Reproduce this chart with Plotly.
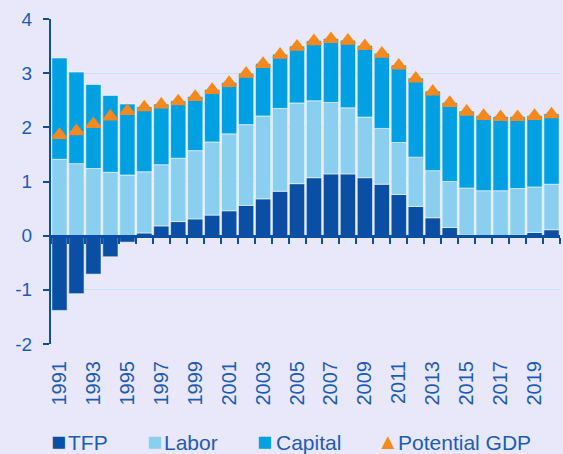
import plotly.graph_objects as go

years = list(range(1991, 2021))
tfp = [-1.38, -1.07, -0.71, -0.39, -0.12, 0.05, 0.18, 0.26, 0.31, 0.38,
       0.46, 0.56, 0.68, 0.82, 0.96, 1.07, 1.14, 1.14, 1.07, 0.95,
       0.76, 0.54, 0.33, 0.15, 0.01, 0.00, 0.00, 0.01, 0.06, 0.11]
labor = [1.41, 1.33, 1.24, 1.17, 1.12, 1.13, 1.13, 1.17, 1.26, 1.35,
         1.42, 1.49, 1.53, 1.53, 1.49, 1.42, 1.32, 1.22, 1.12, 1.03,
         0.96, 0.91, 0.87, 0.85, 0.87, 0.83, 0.83, 0.86, 0.84, 0.84]
capital = [1.87, 1.69, 1.55, 1.42, 1.31, 1.20, 1.12, 1.06, 1.00, 0.97,
           0.95, 0.95, 0.97, 1.00, 1.05, 1.11, 1.18, 1.25, 1.32, 1.39,
           1.43, 1.46, 1.47, 1.46, 1.42, 1.39, 1.37, 1.33, 1.32, 1.30]
potential_gdp = [1.86, 1.93, 2.06, 2.20, 2.30, 2.37, 2.42, 2.48, 2.56, 2.69,
                 2.82, 2.99, 3.17, 3.34, 3.49, 3.59, 3.63, 3.60, 3.50, 3.36,
                 3.14, 2.90, 2.66, 2.45, 2.29, 2.21, 2.19, 2.19, 2.21, 2.24]
tick_years = list(range(1991, 2021, 2))
tick_labels = [str(y) for y in tick_years]
y_ticks = [-2, -1, 0, 1, 2, 3, 4]
y_tick_labels = ["-2", "-1", "0", "1", "2", "3", "4"]
boundary_ticks = [y + 0.5 for y in range(1990, 2021)]

C_TFP = "#0A4FA3"
C_LAB = "#8ACFF0"
C_CAP = "#00A0E3"
C_GDP = "#F5891F"
C_TXT = "#1D5CB4"
C_AX = "#0A4FA3"
BG = "#E8E8FA"
FONT = "Liberation Sans, Arial, sans-serif"

edge = dict(color="rgba(255,255,255,0.55)", width=1)

fig = go.Figure()
fig.add_trace(go.Bar(x=years, y=tfp, name="TFP", marker=dict(color=C_TFP, line=edge)))
fig.add_trace(go.Bar(x=years, y=labor, name="Labor", marker=dict(color=C_LAB, line=edge)))
fig.add_trace(go.Bar(x=years, y=capital, name="Capital", marker=dict(color=C_CAP, line=edge)))
fig.add_trace(go.Scatter(x=years, y=potential_gdp, name="Potential GDP", mode="markers",
                         xaxis="x2",
                         marker=dict(symbol="triangle-up", size=12, color=C_GDP,
                                     line=dict(color=C_GDP, width=2))))

fig.update_layout(
    width=563, height=454,
    margin=dict(l=51, r=3, t=19, b=110),
    paper_bgcolor=BG, plot_bgcolor=BG,
    barmode="relative", bargap=0.1,
    showlegend=False,
    font=dict(family=FONT, color=C_TXT),
    xaxis=dict(range=[1990.5, 2020.5], tickvals=tick_years, ticktext=tick_labels,
               tickangle=-90, tickfont=dict(size=20, color=C_TXT, family=FONT),
               showline=False, ticks="", showgrid=False, zeroline=False,
               ticklabelstandoff=12),
    xaxis2=dict(range=[1990.5, 2020.5], overlaying="x", anchor="free", position=1/3,
                tickvals=boundary_ticks, ticks="outside", ticklen=6, tickwidth=2,
                tickcolor=C_AX, showline=True, linewidth=3, linecolor=C_AX,
                showticklabels=False, showgrid=False, zeroline=False),
    yaxis=dict(range=[-2, 4], tickvals=y_ticks, ticktext=y_tick_labels,
               ticks="outside", ticklen=6, tickwidth=2,
               tickcolor=C_AX, showline=True, linewidth=2, linecolor=C_AX,
               showgrid=True, gridcolor="#C3E4F7", gridwidth=1, zeroline=False,
               tickfont=dict(size=19, color=C_TXT, family=FONT), ticklabelstandoff=7),
)

text_y = (344 - 442) / 325
sym_y = (344 - 441) / 325
legend_items = [
    ("■", C_TFP, 25, 58.3, "TFP", 67),
    ("■", C_LAB, 25, 154.3, "Labor", 163),
    ("■", C_CAP, 25, 264.8, "Capital", 274.5),
    ("▲", C_GDP, 22, 387.5, "Potential GDP", 396.5),
]
for sym, col, sym_size, sym_px, label, text_px in legend_items:
    fig.add_annotation(
        xref="paper", yref="paper", x=(sym_px - 51) / 509, y=sym_y,
        xanchor="center", yanchor="middle", showarrow=False, borderpad=0,
        text=sym, font=dict(size=sym_size, color=col, family=FONT),
    )
    fig.add_annotation(
        xref="paper", yref="paper", x=(text_px - 51) / 509, y=text_y,
        xanchor="left", yanchor="middle", showarrow=False, borderpad=0,
        text=label, font=dict(size=21, color=C_TXT, family=FONT),
    )

fig.write_html("out.html", config={"displayModeBar": False},
               post_script="document.body.style.margin='0';document.body.style.padding='0';")
